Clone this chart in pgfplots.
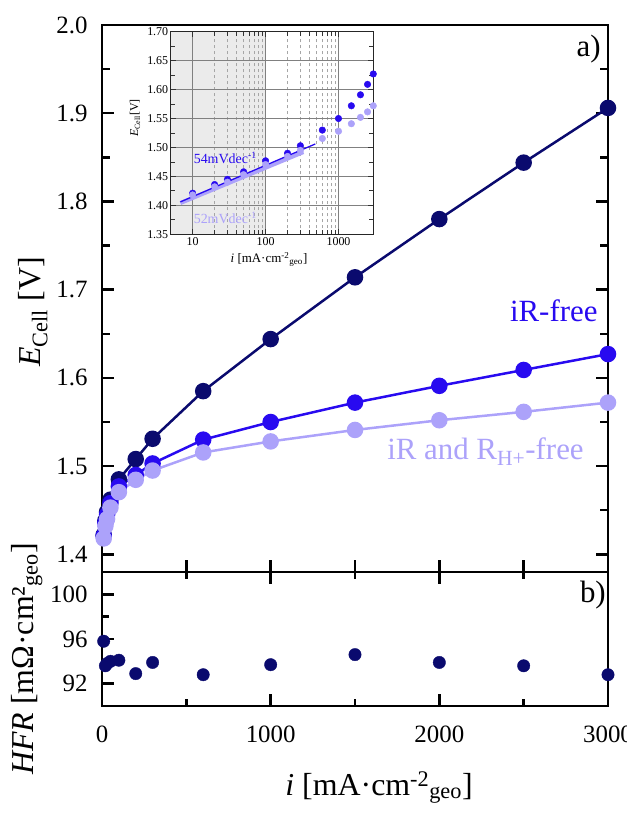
\documentclass[border=0pt]{standalone}
\usepackage{fontspec}
\setmainfont{Liberation Serif}
\usepackage{pgfplots}
\usepackage{pgfplotstable}
\pgfplotsset{compat=1.18}
\definecolor{navy}{RGB}{10,10,110}
\definecolor{irblue}{RGB}{40,10,240}
\definecolor{lightp}{RGB}{172,162,250}

\pgfplotstableread{
i Etot EiR EiRH HFR
10 1.422 1.421 1.418 95.8
20 1.438 1.436 1.432 93.6
30 1.448 1.445 1.440 93.8
50 1.462 1.458 1.453 94.0
100 1.485 1.477 1.4705 94.1
200 1.508 1.490 1.4845 92.9
300 1.531 1.503 1.495 93.9
600 1.585 1.530 1.5155 92.8
1000 1.644 1.550 1.528 93.7
1500 1.714 1.572 1.541 94.6
2000 1.780 1.591 1.552 93.9
2500 1.844 1.609 1.5615 93.6
3000 1.906 1.627 1.572 92.8
}\datatable

\begin{document}
\begin{tikzpicture}
\useasboundingbox (0,0) rectangle (627bp,815bp);
% ---------------- main panel a) ----------------
\begin{axis}[
  at={(102bp,243bp)}, anchor=south west, scale only axis,
  width=506bp, height=547bp,
  xmin=0, xmax=3000, ymin=1.38, ymax=2.0,
  xtick={0,500,1000,1500,2000,2500,3000}, xticklabels={},
  xtick pos=left,
  ytick={1.4,1.5,1.6,1.7,1.8,1.9,2.0},
  minor ytick={1.45,1.55,1.65,1.75,1.85,1.95},
  ytick pos=both, yticklabel pos=left,
  tick align=inside,
  major tick length=12bp, minor tick length=8bp,
  axis line style={line width=2.5bp},
  every tick/.append style={black, line width=2.5bp},
  tick label style={font=\fontsize{25}{28}\selectfont},
  /pgf/number format/assume math mode=true,
  yticklabel style={/pgf/number format/fixed, /pgf/number format/fixed zerofill,
    /pgf/number format/precision=1, xshift=-11bp},
]
\addplot[navy, line width=2.5bp, mark=*, mark size=7bp, mark options={fill=navy}] table[x=i,y=Etot]{\datatable};
\addplot[irblue, line width=2.5bp, mark=*, mark size=7bp, mark options={fill=irblue}] table[x=i,y=EiR]{\datatable};
\addplot[lightp, line width=2.5bp, mark=*, mark size=7bp, mark options={fill=lightp}] table[x=i,y=EiRH]{\datatable};
\node[anchor=base east, inner sep=0, font=\fontsize{31}{34}\selectfont] at (axis cs:2958,1.964) {a)};
\node[anchor=base east, inner sep=0, text=irblue, font=\fontsize{31}{34}\selectfont] at (axis cs:2939,1.664) {iR-free};
\node[anchor=base east, inner sep=0, text=lightp, font=\fontsize{31}{34}\selectfont] at (axis cs:2857,1.5076) {iR and R\textsubscript{H+}-free};
\end{axis}
% ---------------- lower panel b) ----------------
\begin{axis}[
  at={(102bp,109bp)}, anchor=south west, scale only axis,
  width=506bp, height=134bp,
  xmin=0, xmax=3000, ymin=90, ymax=102,
  xtick={0,1000,2000,3000}, minor xtick={500,1500,2500},
  xtick pos=both, xticklabel pos=left,
  ytick={92,96,100}, minor ytick={94,98},
  ytick pos=left,
  tick align=inside,
  major tick length=12bp, minor tick length=7bp,
  axis line style={line width=2.5bp},
  every tick/.append style={black, line width=2.5bp},
  tick label style={font=\fontsize{25}{28}\selectfont},
  /pgf/number format/assume math mode=true,
  scaled x ticks=false,
  xticklabel style={/pgf/number format/1000 sep={}, yshift=-16bp},
  yticklabel style={xshift=-11bp},
]
\addplot[only marks, navy, mark=*, mark size=6.2bp, mark options={fill=navy}] table[x=i,y=HFR]{\datatable};
\node[anchor=base east, inner sep=0, font=\fontsize{31}{34}\selectfont] at (axis cs:2988,99.27) {b)};
\end{axis}
% ---------------- inset ----------------
\begin{axis}[
  at={(170.7bp,580.7bp)}, anchor=south west, scale only axis,
  width=202.6bp, height=202.6bp,
  xmode=log, xmin=5, xmax=3000, ymin=1.35, ymax=1.70,
  xtick={10,100,1000}, xticklabels={10,100,1000},
  ytick={1.35,1.40,1.45,1.50,1.55,1.60,1.65,1.70},
  minor ytick={1.375,1.425,1.475,1.525,1.575,1.625,1.675},
  yticklabel style={/pgf/number format/fixed, /pgf/number format/fixed zerofill,
    /pgf/number format/precision=2, xshift=1bp},
  grid=major, xminorgrids=true,
  major grid style={black!50, line width=0.9bp},
  minor grid style={black!35, line width=0.7bp, dash pattern=on 3bp off 3bp},
  axis background/.style={fill=white, path picture={
      \fill[black!8] (path picture bounding box.south west) rectangle
        ([xshift=94.9bp]path picture bounding box.north west);}},
  axis line style={line width=1.3bp, black!85},
  tick align=inside, major tick length=5bp, minor tick length=4bp,
  every tick/.append style={black!80, line width=0.8bp},
  tick label style={font=\fontsize{12}{14}\selectfont},
  /pgf/number format/assume math mode=true,
  xticklabel style={yshift=0bp},
]
\addplot[only marks, irblue, mark=*, mark size=3.3bp, mark options={fill=irblue}] table[x=i,y=EiR]{\datatable};
\addplot[only marks, lightp, mark=*, mark size=3.3bp, mark options={fill=lightp}] table[x=i,y=EiRH]{\datatable};
\addplot[lightp, line width=4bp] coordinates {(6.8,1.404) (330,1.492)};
\addplot[irblue, line width=1.3bp] coordinates {(6.8,1.406) (480,1.506)};
\node[anchor=west, inner sep=0, text=irblue, font=\fontsize{14}{16}\selectfont] at (axis cs:10.3,1.4815) {54mVdec\textsuperscript{-1}};
\node[anchor=west, inner sep=0, text=lightp, font=\fontsize{14}{16}\selectfont] at (axis cs:10.3,1.378) {52mVdec\textsuperscript{-1}};
\end{axis}
% ---------------- labels ----------------
\node[rotate=90, font=\fontsize{32}{36}\selectfont] at (33bp,503bp) {\textit{E}\textsubscript{Cell} [V]};
\node[rotate=90, font=\fontsize{32}{36}\selectfont] at (27bp,156bp) {\textit{HFR} [mΩ·cm²\textsubscript{geo}]};
\node[anchor=base, font=\fontsize{32}{36}\selectfont] at (379bp,20bp) {\textit{i} [mA·cm\textsuperscript{-2}\textsubscript{geo}]};
\node[anchor=base, font=\fontsize{13}{15}\selectfont] at (269bp,552bp) {\textit{i} [mA·cm\textsuperscript{-2}\textsubscript{geo}]};
\node[rotate=90, font=\fontsize{12}{14}\selectfont] at (135bp,697bp) {\textit{E}\textsubscript{Cell}[V]};
\end{tikzpicture}
\end{document}
